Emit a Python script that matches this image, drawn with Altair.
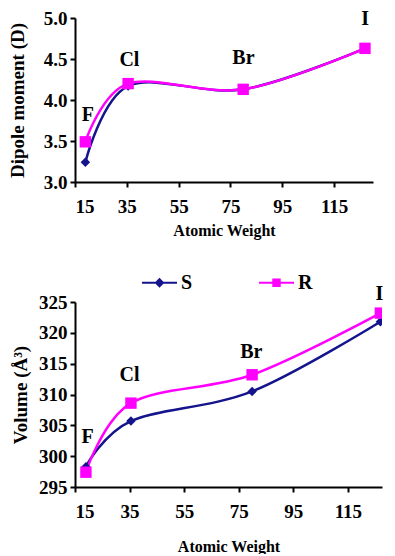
import altair as alt
import pandas as pd

elements = ["F", "Cl", "Br", "I"]
atomic_weight = [19.0, 35.5, 79.9, 126.9]

dipole_S = [3.24, 4.17, 4.13, 4.63]
dipole_R = [3.49, 4.20, 4.13, 4.63]
volume_S = [298.3, 305.7, 310.5, 321.8]
volume_R = [297.4, 308.6, 313.2, 323.2]

# element label positions (data units)
dip_label_x = [20, 36, 80, 127]
dip_label_y = [3.82, 4.49, 4.51, 4.99]
vol_label_x = [19.6, 35, 79.6, 126.5]
vol_label_y = [303.1, 313.2, 316.9, 326.3]

series = ["S", "R"]
colors = ["#14148c", "#ff00ff"]
path_S = "M-1,-0.06H1V0.06H-1Z M0,-0.28L0.28,0L0,0.28L-0.28,0Z"
path_R = "M-1,-0.06H1V0.06H-1Z M-0.24,-0.24H0.24V0.24H-0.24Z"

FONT = "Liberation Serif"

lab_dip = pd.DataFrame({"w": dip_label_x, "v": dip_label_y, "t": elements})
lab_vol = pd.DataFrame({"w": vol_label_x, "v": vol_label_y, "t": elements})


def series_df(vals):
    return pd.DataFrame({"w": atomic_weight, "v": vals})


def panel(S_vals, R_vals, lab, xdom, ydom, yvals, yfmt, ytitle, width, height,
          legend, xtitle_pad, ytitle_pad, clip):
    x = alt.X("w:Q", scale=alt.Scale(domain=xdom, nice=False, zero=False),
              axis=alt.Axis(values=[15, 35, 55, 75, 95, 115], title="Atomic Weight",
                            titlePadding=xtitle_pad))
    y = alt.Y("v:Q", scale=alt.Scale(domain=ydom, nice=False, zero=False),
              axis=alt.Axis(values=yvals, format=yfmt, title=ytitle,
                            titlePadding=ytitle_pad, labelOverlap=False))
    dS = alt.Chart(series_df(S_vals))
    dR = alt.Chart(series_df(R_vals))
    lineS = dS.mark_line(interpolate="cardinal", strokeWidth=2.5, color=colors[0],
                         clip=clip).encode(x=x, y=y, order=alt.Order("w:Q"))
    lineR = dR.mark_line(interpolate="cardinal", strokeWidth=2.5, color=colors[1],
                         clip=clip).encode(x=x, y=y, order=alt.Order("w:Q"))
    pS = dS.mark_point(shape="diamond", filled=True, size=90, opacity=1,
                       color=colors[0], clip=clip).encode(x=x, y=y)
    pR = dR.mark_point(shape="square", filled=True, size=130, opacity=1,
                       color=colors[1], clip=clip).encode(x=x, y=y)
    text = alt.Chart(lab).mark_text(font=FONT, fontWeight="bold", fontSize=20,
                                    baseline="middle", align="center",
                                    color="black").encode(x=x, y=y, text="t:N")
    layers = [lineS, lineR, pS, pR, text]
    if legend:
        leg = alt.Legend(title=None, orient="none", direction="horizontal",
                         legendX=67, legendY=-37, symbolSize=1225,
                         symbolStrokeWidth=0, labelFont=FONT, labelFontSize=20,
                         labelFontWeight="bold", labelColor="black",
                         columnPadding=66, labelOffset=4, padding=0)
        hidden = alt.Chart(series_df(S_vals).assign(series="S")).transform_filter(
            "false").mark_point(filled=True, opacity=1).encode(
            x=x, y=y,
            color=alt.Color("series:N", scale=alt.Scale(domain=series, range=colors),
                            legend=leg),
            shape=alt.Shape("series:N", scale=alt.Scale(domain=series, range=[path_S, path_R]),
                            legend=leg))
        layers.append(hidden)
    return alt.layer(*layers).properties(width=width, height=height)


top = panel(dipole_S, dipole_R, lab_dip, [15, 130], [3.0, 5.0],
            [3.0, 3.5, 4.0, 4.5, 5.0], ".1f", "Dipole moment (D)", 298, 164,
            False, 6, 16, False)
bottom = panel(volume_S, volume_R, lab_vol, [15, 127.5], [295, 325],
               [295, 300, 305, 310, 315, 320, 325], "d", "Volume (Å³)", 307, 185,
               True, 17, 8, True)

chart = alt.vconcat(top, bottom, spacing=27).resolve_legend(
    color="independent", shape="independent").configure_view(
    stroke=None).configure_axis(
    grid=False, domainColor="black", domainWidth=2, tickColor="black", tickWidth=2,
    tickSize=5, labelFont=FONT, labelFontSize=19, labelFontWeight="bold",
    labelColor="black", labelPadding=3, titleFont=FONT, titleFontWeight="bold",
    titleColor="black").configure_axisX(
    labelPadding=10, titleFontSize=16).configure_axisY(
    titleFontSize=19).properties(
    padding={"left": 0, "top": 0, "right": 0, "bottom": 0})

chart.save("out.html", embed_options={"renderer": "svg", "actions": False})
